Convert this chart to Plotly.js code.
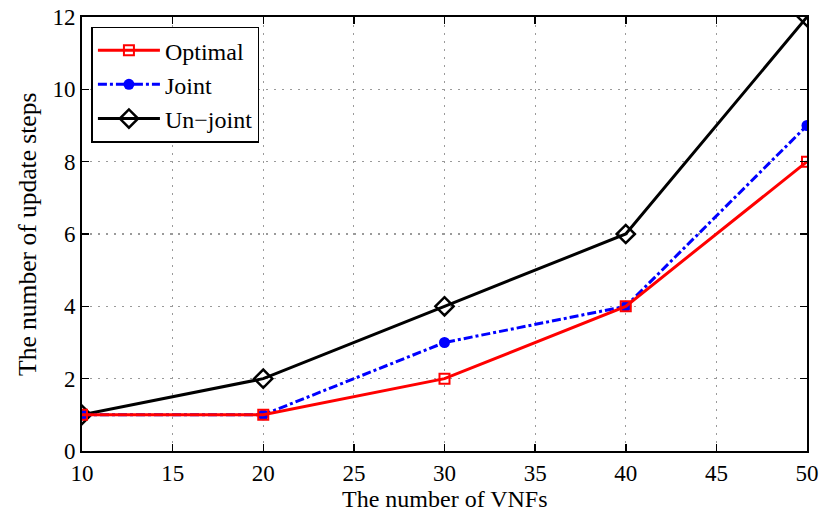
<!DOCTYPE html>
<html><head><meta charset="utf-8">
<script src="https://cdn.plot.ly/plotly-3.0.1.min.js"></script>
<style>body{margin:0;background:#fff}#c{width:832px;height:510px}</style>
</head><body><div id="c"></div>
<script>
const vnfs = [10, 20, 30, 40, 50];
const optimal = [1, 1, 2, 4, 8];
const joint = [1, 1, 3, 4, 9];
const unjoint = [1, 2, 4, 6, 12];
const xTicks = [10, 15, 20, 25, 30, 35, 40, 45, 50];
const yTicks = [0, 2, 4, 6, 8, 10, 12];
const xTitle = 'The number of VNFs';
const yTitle = 'The number of update steps';

const FONT = 'Liberation Serif';

const traces = [
  {x: vnfs, y: unjoint, name: 'Un\u2212joint', mode: 'lines+markers',
   line: {color: '#000', width: 3},
   marker: {symbol: 'diamond-open', size: 14, color: '#000', line: {width: 2.5, color: '#000'}}},
  {x: vnfs, y: joint, name: 'Joint', mode: 'lines+markers',
   line: {color: '#0000ff', width: 3, dash: 'dashdot'},
   marker: {symbol: 'circle', size: 11, color: '#0000ff'}},
  {x: vnfs, y: optimal, name: 'Optimal', mode: 'lines+markers',
   line: {color: '#ff0000', width: 3},
   marker: {symbol: 'square-open', size: 10, color: '#ff0000', line: {width: 2, color: '#ff0000'}}}
];

const axisCommon = {
  showline: true, linecolor: '#000', linewidth: 2, mirror: 'allticks',
  ticks: 'inside', ticklen: 7, tickwidth: 1.5, tickcolor: '#000',
  showgrid: true, gridcolor: '#9a9a9a', griddash: '2px,6px', gridwidth: 1.2,
  zeroline: false,
  tickfont: {family: FONT, size: 23, color: '#000'}
};

const layout = {
  width: 832, height: 510,
  margin: {l: 82, r: 25, t: 17, b: 59},
  paper_bgcolor: '#fff', plot_bgcolor: '#fff',
  font: {family: FONT, color: '#000'},
  xaxis: Object.assign({}, axisCommon, {
    range: [10, 50], tickmode: 'array', tickvals: xTicks
  }),
  yaxis: Object.assign({}, axisCommon, {
    range: [0, 12], tickmode: 'array', tickvals: yTicks
  }),
  annotations: [
    {text: xTitle, xref: 'paper', yref: 'paper', x: 0.5, y: -0.110,
     xanchor: 'center', yanchor: 'middle', showarrow: false,
     font: {family: FONT, size: 24, color: '#000'}},
    {text: yTitle, xref: 'paper', yref: 'paper', x: -0.076, y: 0.5,
     xanchor: 'center', yanchor: 'middle', showarrow: false, textangle: -90,
     font: {family: FONT, size: 25.5, color: '#000'}}
  ],
  showlegend: true,
  legend: {
    x: 0.013, y: 0.978, xanchor: 'left', yanchor: 'top',
    bgcolor: '#fff', bordercolor: '#000', borderwidth: 1.5,
    traceorder: 'reversed',
    font: {family: FONT, size: 24, color: '#000'},
    itemwidth: 62, tracegroupgap: 0
  }
};

Plotly.newPlot('c', traces, layout, {displayModeBar: false, staticPlot: true});
</script></body></html>
